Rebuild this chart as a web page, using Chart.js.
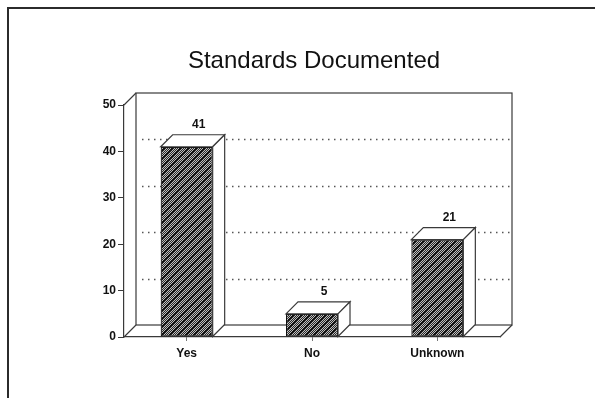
<!DOCTYPE html>
<html>
<head>
<meta charset="utf-8">
<script src="https://cdn.jsdelivr.net/npm/chart.js@4/dist/chart.umd.min.js"></script>
<style>
  html, body { margin: 0; padding: 0; background: #fff; overflow: hidden; }
  #wrap { width: 595px; height: 398px; position: relative; }
</style>
</head>
<body>
<div id="wrap"><canvas id="c" width="595" height="398"></canvas></div>
<script>
// Survey answers and their counts
const categories = ['Yes', 'No', 'Unknown'];
const counts = [41, 5, 21];
// Value axis ticks
const yMin = 0;
const yMax = 50;
const yStep = 10;
const chartTitle = 'Standards Documented';

// Depth of the pseudo-3D box and bars (pixels)
const DX = 12, DY = 12;
const LINE = '#3a3a3a';
const FONT = '"Liberation Sans", Arial, Helvetica, sans-serif';

// Hatched fill: grey stipple with dark "/" stripes
function makeHatch() {
  const s = 8;
  const pc = document.createElement('canvas');
  pc.width = s; pc.height = s;
  const p = pc.getContext('2d');
  for (let y = 0; y < s; y++) {
    for (let x = 0; x < s; x++) {
      const k = (x + y) % s;
      let col;
      if (k === 0 || k === 7) col = '#111';
      else col = ((x + y) % 2 === 0) ? '#bdbdbd' : '#262626';
      p.fillStyle = col;
      p.fillRect(x, y, 1, 1);
    }
  }
  return p.createPattern(pc, 'repeat');
}

const ctx = document.getElementById('c').getContext('2d');
const hatch = makeHatch();

const boxPlugin = {
  id: 'box3d',
  beforeDraw(chart) {
    const c = chart.ctx;
    c.save();
    c.fillStyle = '#fff';
    c.fillRect(0, 0, chart.width, chart.height);
    // page frame
    c.strokeStyle = '#2b2b2b';
    c.lineWidth = 2;
    c.beginPath();
    c.moveTo(8, chart.height);
    c.lineTo(8, 8);
    c.lineTo(chart.width, 8);
    c.stroke();
    // title centred over the plot
    const a = chart.chartArea;
    c.fillStyle = '#111';
    c.font = '24px ' + FONT;
    c.textAlign = 'center';
    c.textBaseline = 'alphabetic';
    c.fillText(chartTitle, (a.left + a.right) / 2 + 2, 68);
    c.restore();
  },
  beforeDatasetsDraw(chart) {
    const c = chart.ctx;
    const a = chart.chartArea;
    const ys = chart.scales.y;
    const top = ys.getPixelForValue(yMax);
    const bot = ys.getPixelForValue(yMin);
    c.save();
    c.strokeStyle = LINE;
    c.lineWidth = 1.2;
    // back wall
    c.strokeRect(a.left + DX, top - DY, a.right - a.left, bot - top);
    // floor and top-left edge
    c.beginPath();
    c.moveTo(a.left, bot); c.lineTo(a.left + DX, bot - DY);
    c.moveTo(a.right, bot); c.lineTo(a.right + DX, bot - DY);
    c.moveTo(a.left, top); c.lineTo(a.left + DX, top - DY);
    c.stroke();
    // dotted grid on the back wall
    c.strokeStyle = '#555';
    c.lineWidth = 1.4;
    c.setLineDash([1.5, 4.5]);
    for (let v = yMin + yStep; v < yMax; v += yStep) {
      const py = Math.round(ys.getPixelForValue(v) - DY) + 0.5;
      c.beginPath();
      c.moveTo(a.left + DX + 6, py);
      c.lineTo(a.right + DX - 2, py);
      c.stroke();
    }
    c.restore();
  },
  afterDatasetsDraw(chart) {
    const c = chart.ctx;
    const meta = chart.getDatasetMeta(0);
    c.save();
    c.strokeStyle = LINE;
    c.lineWidth = 1.2;
    meta.data.forEach((bar, i) => {
      const { x, y, base, width } = bar.getProps(['x', 'y', 'base', 'width'], true);
      const l = x - width / 2, r = x + width / 2;
      c.fillStyle = '#fff';
      // top face
      c.beginPath();
      c.moveTo(l, y); c.lineTo(l + DX, y - DY); c.lineTo(r + DX, y - DY); c.lineTo(r, y);
      c.closePath(); c.fill(); c.stroke();
      // right side face
      c.beginPath();
      c.moveTo(r, y); c.lineTo(r + DX, y - DY); c.lineTo(r + DX, base - DY); c.lineTo(r, base);
      c.closePath(); c.fill(); c.stroke();
      // value label
      c.fillStyle = '#111';
      c.font = 'bold 12px ' + FONT;
      c.textAlign = 'center';
      c.textBaseline = 'alphabetic';
      c.fillText(String(counts[i]), x + DX, y - DY - 7);
    });
    c.restore();
  }
};

new Chart(ctx, {
  type: 'bar',
  data: {
    labels: categories,
    datasets: [{
      data: counts,
      backgroundColor: hatch,
      borderColor: '#111',
      borderWidth: 1.2,
      borderSkipped: false,
      categoryPercentage: 1,
      barPercentage: 0.415
    }]
  },
  options: {
    responsive: false,
    animation: false,
    devicePixelRatio: 1,
    layout: { padding: { top: 105, right: 95, bottom: 31, left: 0 } },
    plugins: {
      legend: { display: false },
      title: { display: false },
      tooltip: { enabled: false }
    },
    scales: {
      x: {
        offset: true,
        afterFit(s) { s.height = 30; },
        grid: { display: true, offset: false, drawOnChartArea: false, drawTicks: true, tickLength: 4, color: '#777' },
        border: { display: true, color: LINE, width: 1.2 },
        ticks: { color: '#111', padding: 5, font: { family: FONT, size: 12, weight: 'bold' } }
      },
      y: {
        min: yMin,
        max: yMax,
        afterFit(s) { s.width = 124; },
        grid: { display: true, drawOnChartArea: false, drawTicks: true, tickLength: 6, color: LINE },
        border: { display: true, color: LINE, width: 1.2 },
        ticks: { stepSize: yStep, color: '#111', padding: 2, font: { family: FONT, size: 12, weight: 'bold' } }
      }
    }
  },
  plugins: [boxPlugin]
});
</script>
</body>
</html>
